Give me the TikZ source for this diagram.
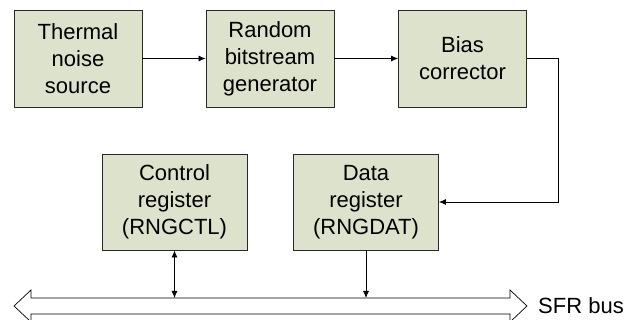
\documentclass[tikz,border=0pt]{standalone}
\usepackage{fontspec}
\setmainfont{Liberation Sans}
\usetikzlibrary{arrows.meta,positioning,calc}
\tikzset{>={Latex[length=7pt,width=6pt]}}
\definecolor{blockfill}{RGB}{221,226,205}
\definecolor{blockline}{RGB}{40,40,40}
\tikzset{
  block/.style={draw=blockline,fill=blockfill,line width=0.9pt,align=center,
    inner sep=0pt,font=\fontsize{22}{27}\selectfont},
  topblock/.style={block,minimum width=128pt,minimum height=97pt},
  regblock/.style={block,minimum width=145pt,minimum height=96pt},
  link/.style={draw,line width=0.8pt}
}

\begin{document}
\begin{tikzpicture}[x=1pt,y=-1pt]
  \useasboundingbox (0,0) rectangle (625,320);
  % processing chain
  \node[topblock] (noise) at (78,58.5) {Thermal\\noise\\source};
  \node[topblock] (bitgen) at (270,58.5) {Random\\bitstream\\generator};
  \node[topblock] (bias) at (462.5,58.5) {Bias\\corrector};
  % registers
  \node[regblock] (ctlreg) at (174.5,202) {Control\\register\\(RNGCTL)};
  \node[regblock] (datreg) at (366,202) {Data\\register\\(RNGDAT)};
  % SFR bus
  \draw[line width=0.7pt,fill=white]
    (14,306) -- (31,290) -- (31,298) -- (510,298) -- (510,290) -- (527,306)
    -- (510,322) -- (510,314) -- (31,314) -- (31,322) -- cycle;
  \node[anchor=west,inner sep=0pt,font=\fontsize{22}{27}\selectfont] (buslabel) at (538,306) {SFR bus};
  \coordinate (ctltap) at (ctlreg.south |- 0,298);
  \coordinate (dattap) at (datreg.south |- 0,298);
  \coordinate (biasturn) at (558,0);
  % connectors
  \draw[link,->] (noise) -- (bitgen);
  \draw[link,->] (bitgen) -- (bias);
  \draw[link,->] (bias.east) -| (biasturn |- datreg.east) -- (datreg.east);
  \draw[link,<->] (ctlreg.south) -- (ctltap);
  \draw[link,->] (datreg.south) -- (dattap);
\end{tikzpicture}
\end{document}
